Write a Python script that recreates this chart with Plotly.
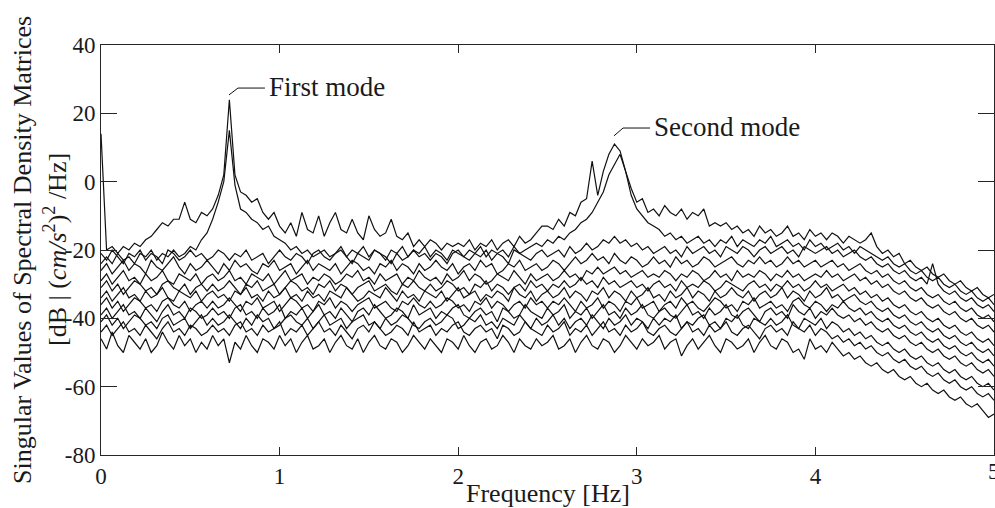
import numpy as np
import plotly.graph_objects as go

# Singular value curves (dB), sampled uniformly on 0..5 Hz (161 points each)
sv1 = [14, -20, -19, -21, -19, -20, -18, -19, -17, -16, -14, -12, -13, -11, -11, -6, -11, -12, -9, -10,
       -8, -4, 2, 24, 2, -3, -4, -6, -5, -9, -11, -9, -13, -15, -12, -16, -9, -14, -15, -10,
       -16, -12, -9, -14, -15, -11, -15, -17, -10, -14, -16, -15, -11, -16, -17, -15, -19, -17, -19, -17,
       -18, -20, -18, -19, -18, -19, -17, -20, -18, -19, -17, -20, -18, -17, -19, -16, -18, -17, -15, -13,
       -13, -14, -11, -13, -9, -10, -6, -5, 6, -4, 3, 8, 11, 9, 3, -2, -6, -5, -9, -8,
       -10, -7, -9, -10, -8, -11, -9, -10, -8, -13, -12, -13, -12, -14, -13, -15, -14, -16, -13, -15,
       -14, -16, -15, -13, -16, -15, -17, -14, -16, -15, -17, -15, -16, -18, -16, -17, -18, -17, -15, -19,
       -21, -20, -22, -21, -24, -23, -25, -26, -25, -27, -28, -27, -29, -30, -29, -31, -32, -31, -33, -34, -33]
sv2 = [-24, -22, -24, -21, -23, -22, -24, -21, -22, -20, -23, -21, -22, -20, -22, -21, -19, -20, -17, -15,
       -11, -6, 0, 15, -1, -8, -9, -11, -12, -14, -13, -16, -17, -18, -20, -19, -21, -20, -22, -21,
       -20, -22, -21, -19, -22, -20, -21, -19, -22, -20, -21, -23, -20, -21, -19, -22, -20, -21, -19, -22,
       -20, -21, -23, -20, -21, -22, -20, -21, -19, -22, -20, -21, -20, -22, -19, -21, -20, -19, -18, -19,
       -17, -18, -16, -17, -15, -14, -12, -11, -9, -6, -3, 2, 5, 8, 3, -4, -8, -10, -12, -13,
       -14, -16, -15, -17, -16, -18, -17, -16, -18, -17, -19, -17, -18, -16, -19, -17, -18, -19, -17, -18,
       -16, -19, -18, -17, -19, -18, -20, -17, -19, -18, -20, -19, -18, -20, -19, -21, -19, -20, -21, -22,
       -23, -22, -24, -25, -24, -26, -27, -26, -28, -29, -28, -30, -31, -30, -32, -33, -32, -34, -35, -34, -36]
sv3 = [-21, -23, -20, -22, -24, -21, -22, -20, -23, -21, -22, -24, -20, -21, -23, -22, -20, -22, -21, -23,
       -22, -20, -21, -23, -21, -22, -20, -23, -22, -21, -24, -22, -20, -22, -23, -21, -22, -24, -21, -20,
       -22, -23, -21, -20, -22, -24, -21, -22, -23, -20, -21, -22, -24, -21, -23, -22, -20, -22, -21, -23,
       -21, -22, -24, -21, -20, -22, -23, -21, -22, -20, -23, -21, -22, -24, -20, -21, -22, -23, -21, -20,
       -22, -21, -20, -22, -19, -21, -20, -18, -20, -19, -17, -18, -16, -18, -17, -19, -18, -20, -19, -21,
       -20, -19, -21, -20, -22, -19, -21, -20, -19, -21, -20, -22, -19, -20, -21, -19, -20, -22, -20, -19,
       -21, -20, -19, -21, -20, -22, -19, -20, -21, -20, -19, -21, -20, -22, -21, -20, -22, -23, -22, -24,
       -25, -24, -26, -27, -26, -28, -29, -28, -30, -24, -30, -32, -33, -32, -34, -35, -34, -36, -37, -36, -38]
sv4 = [-26, -24, -27, -25, -23, -26, -24, -25, -27, -23, -25, -26, -24, -22, -25, -27, -24, -26, -25, -23,
       -25, -27, -24, -26, -23, -25, -24, -26, -27, -24, -25, -23, -26, -25, -24, -27, -25, -23, -26, -24,
       -25, -26, -24, -27, -25, -23, -24, -26, -25, -27, -24, -25, -23, -26, -24, -25, -27, -24, -26, -25,
       -23, -25, -26, -24, -27, -25, -24, -26, -23, -25, -24, -27, -26, -24, -25, -23, -26, -25, -24, -26,
       -25, -23, -24, -26, -24, -22, -24, -23, -21, -23, -22, -24, -21, -23, -24, -22, -23, -25, -24, -22,
       -24, -23, -25, -22, -24, -23, -25, -24, -22, -23, -25, -24, -23, -22, -24, -25, -23, -24, -22, -24,
       -23, -25, -24, -22, -24, -23, -25, -24, -23, -25, -24, -23, -25, -24, -26, -25, -24, -26, -27, -26,
       -28, -27, -29, -30, -29, -31, -32, -31, -33, -34, -33, -35, -36, -35, -37, -38, -37, -39, -40, -39, -41]
sv5 = [-29, -27, -30, -28, -26, -29, -28, -30, -27, -29, -28, -26, -29, -30, -27, -28, -29, -27, -30, -28,
       -27, -29, -28, -26, -29, -28, -30, -27, -28, -29, -27, -30, -28, -26, -29, -28, -27, -30, -28, -29,
       -27, -28, -30, -29, -27, -28, -26, -29, -28, -30, -27, -29, -28, -27, -30, -28, -29, -26, -28, -29,
       -28, -30, -27, -29, -28, -26, -29, -27, -28, -30, -29, -27, -28, -29, -26, -28, -30, -27, -29, -28,
       -27, -29, -28, -26, -28, -27, -29, -26, -27, -25, -27, -26, -25, -27, -26, -28, -27, -26, -28, -27,
       -28, -26, -27, -29, -27, -28, -26, -27, -29, -28, -26, -28, -27, -29, -26, -28, -27, -28, -26, -27,
       -29, -27, -28, -26, -28, -27, -29, -28, -27, -28, -26, -28, -27, -29, -28, -27, -29, -28, -30, -29,
       -31, -30, -32, -33, -32, -34, -35, -34, -36, -37, -36, -38, -39, -38, -40, -41, -40, -42, -43, -42, -44]
sv6 = [-31, -29, -32, -30, -33, -31, -29, -30, -32, -31, -33, -30, -29, -31, -32, -30, -33, -31, -30, -32,
       -30, -32, -31, -29, -31, -33, -30, -31, -29, -32, -31, -30, -33, -31, -29, -30, -32, -31, -33, -30,
       -31, -29, -32, -30, -31, -33, -31, -30, -29, -32, -31, -30, -32, -33, -30, -31, -29, -31, -32, -30,
       -32, -31, -29, -30, -32, -31, -33, -30, -31, -29, -32, -30, -31, -33, -31, -30, -32, -29, -31, -30,
       -32, -30, -31, -29, -31, -30, -28, -30, -29, -31, -28, -30, -29, -31, -30, -29, -31, -30, -32, -30,
       -29, -31, -30, -32, -29, -31, -30, -31, -29, -30, -32, -31, -29, -30, -31, -32, -30, -29, -31, -30,
       -32, -30, -31, -29, -31, -30, -32, -31, -29, -31, -30, -32, -31, -30, -32, -31, -33, -32, -34, -33,
       -35, -34, -36, -37, -36, -38, -39, -38, -40, -41, -40, -42, -43, -42, -44, -45, -44, -46, -47, -46, -48]
sv7 = [-34, -32, -35, -33, -31, -34, -33, -35, -32, -34, -33, -31, -34, -35, -32, -33, -34, -32, -35, -33,
       -32, -34, -33, -35, -32, -33, -31, -34, -33, -35, -32, -34, -33, -31, -34, -33, -35, -32, -34, -33,
       -35, -32, -33, -34, -31, -33, -35, -34, -32, -33, -34, -31, -33, -35, -32, -34, -33, -35, -32, -33,
       -34, -32, -35, -33, -31, -34, -33, -32, -35, -33, -34, -32, -33, -35, -31, -33, -34, -32, -35, -33,
       -32, -34, -33, -31, -34, -32, -33, -35, -32, -33, -31, -34, -32, -33, -35, -32, -34, -33, -31, -34,
       -33, -35, -32, -34, -33, -31, -34, -32, -33, -35, -32, -34, -33, -31, -33, -34, -32, -35, -33, -32,
       -34, -33, -31, -34, -32, -33, -35, -32, -34, -33, -31, -34, -33, -35, -34, -33, -35, -36, -35, -37,
       -38, -37, -39, -40, -39, -41, -42, -41, -43, -44, -43, -45, -46, -45, -47, -48, -47, -49, -50, -49, -51]
sv8 = [-36, -34, -37, -35, -38, -36, -34, -35, -37, -36, -38, -35, -34, -36, -37, -35, -38, -36, -35, -37,
       -35, -37, -36, -34, -36, -38, -35, -36, -34, -37, -36, -35, -38, -36, -34, -35, -37, -36, -38, -35,
       -36, -34, -37, -35, -36, -38, -36, -35, -34, -37, -36, -35, -37, -38, -35, -36, -34, -36, -37, -35,
       -37, -36, -34, -35, -37, -36, -38, -35, -36, -34, -37, -35, -36, -38, -36, -35, -37, -34, -36, -35,
       -37, -35, -36, -34, -36, -38, -35, -37, -36, -34, -37, -35, -36, -38, -35, -36, -34, -37, -36, -35,
       -38, -36, -35, -37, -34, -36, -35, -37, -38, -36, -34, -35, -37, -36, -38, -35, -36, -34, -37, -36,
       -35, -37, -36, -38, -35, -34, -36, -37, -35, -36, -38, -36, -37, -35, -37, -38, -37, -39, -38, -40,
       -41, -40, -42, -43, -42, -44, -45, -44, -46, -47, -46, -48, -49, -48, -50, -51, -50, -52, -53, -52, -54]
sv9 = [-39, -37, -40, -38, -36, -39, -38, -40, -37, -39, -41, -38, -36, -39, -38, -40, -37, -38, -40, -39,
       -37, -39, -38, -40, -37, -36, -39, -38, -40, -37, -39, -38, -36, -40, -38, -39, -37, -40, -38, -36,
       -39, -38, -40, -37, -39, -41, -38, -37, -39, -36, -38, -40, -39, -37, -38, -40, -36, -39, -38, -37,
       -40, -38, -39, -37, -36, -39, -40, -38, -37, -39, -38, -41, -37, -38, -40, -39, -36, -38, -39, -40,
       -37, -39, -38, -36, -40, -38, -39, -37, -40, -38, -36, -39, -38, -40, -37, -39, -38, -36, -39, -40,
       -38, -37, -39, -40, -38, -36, -39, -38, -40, -37, -39, -38, -36, -39, -40, -38, -37, -39, -41, -38,
       -37, -39, -38, -40, -36, -38, -39, -37, -40, -38, -39, -37, -39, -40, -39, -41, -40, -42, -41, -43,
       -44, -43, -45, -46, -45, -47, -48, -47, -49, -50, -49, -51, -52, -51, -53, -54, -53, -55, -56, -55, -57]
sv10 = [-41, -39, -42, -40, -43, -41, -39, -40, -42, -41, -43, -40, -39, -42, -41, -40, -43, -41, -39, -42,
        -40, -42, -41, -39, -41, -43, -40, -42, -39, -41, -40, -43, -42, -40, -39, -41, -42, -40, -43, -41,
        -39, -42, -41, -40, -43, -41, -40, -39, -42, -41, -43, -40, -42, -41, -39, -40, -42, -43, -41, -40,
        -42, -41, -39, -40, -43, -42, -40, -41, -39, -42, -41, -43, -40, -41, -42, -39, -41, -43, -40, -42,
        -41, -39, -42, -40, -43, -41, -40, -42, -39, -41, -43, -40, -42, -41, -39, -42, -40, -41, -43, -40,
        -42, -40, -41, -39, -43, -41, -42, -40, -39, -42, -41, -43, -40, -41, -39, -42, -43, -40, -41, -42,
        -40, -42, -41, -39, -42, -43, -40, -41, -42, -40, -43, -41, -42, -44, -43, -45, -44, -46, -45, -47,
        -48, -47, -49, -50, -49, -51, -52, -51, -53, -54, -53, -55, -56, -55, -57, -58, -57, -59, -60, -59, -61]
sv11 = [-44, -42, -45, -43, -41, -44, -43, -45, -42, -44, -46, -43, -41, -44, -43, -45, -42, -43, -45, -44,
        -42, -44, -43, -45, -42, -41, -44, -43, -45, -42, -44, -43, -41, -45, -43, -44, -42, -45, -43, -41,
        -44, -43, -45, -42, -44, -46, -43, -42, -44, -41, -43, -45, -44, -42, -43, -45, -41, -44, -43, -42,
        -45, -43, -44, -42, -41, -44, -45, -43, -42, -44, -43, -46, -42, -43, -45, -44, -41, -43, -44, -45,
        -42, -44, -43, -41, -45, -43, -44, -42, -45, -43, -41, -44, -43, -45, -42, -44, -43, -41, -44, -45,
        -43, -42, -44, -45, -43, -41, -44, -43, -45, -42, -44, -43, -41, -44, -45, -43, -42, -44, -46, -43,
        -42, -44, -43, -45, -41, -43, -44, -42, -45, -43, -44, -46, -45, -47, -46, -48, -47, -49, -48, -50,
        -51, -50, -52, -53, -52, -54, -55, -54, -56, -57, -56, -58, -59, -58, -60, -61, -60, -62, -63, -62, -64]
sv12 = [-46, -49, -44, -48, -50, -45, -47, -49, -46, -50, -48, -44, -47, -49, -45, -48, -46, -50, -47, -49,
        -45, -48, -46, -53, -47, -49, -45, -48, -50, -46, -47, -49, -45, -48, -46, -50, -47, -45, -49, -48,
        -46, -50, -47, -45, -48, -49, -46, -50, -47, -45, -48, -49, -46, -47, -50, -48, -45, -47, -49, -46,
        -48, -50, -46, -47, -49, -45, -48, -50, -47, -46, -49, -48, -45, -47, -50, -46, -48, -49, -46, -48,
        -47, -45, -49, -48, -46, -50, -47, -45, -48, -49, -46, -47, -50, -48, -45, -47, -49, -46, -48, -47,
        -45, -49, -47, -46, -51, -48, -46, -49, -47, -45, -48, -50, -46, -47, -49, -48, -46, -50, -47, -45,
        -48, -49, -46, -47, -50, -49, -52, -46, -49, -48, -50, -47, -49, -51, -50, -52, -51, -53, -54, -53,
        -55, -56, -55, -57, -58, -57, -59, -60, -59, -61, -62, -61, -63, -64, -63, -65, -66, -65, -67, -69, -68]

curves = [sv1, sv2, sv3, sv4, sv5, sv6, sv7, sv8, sv9, sv10, sv11, sv12]

# Axis ticks
x_ticks = [0, 1, 2, 3, 4, 5]
y_ticks = [-80, -60, -40, -20, 0, 20, 40]
y_ticktext = ["-80", "-60", "-40", "-20", "0", "20", "40"]

# Mode labels with their leader lines (freq, dB)
mode_labels = ["First mode", "Second mode"]
leader_x = [[0.717, 0.767, 0.918], [2.872, 2.923, 3.074]]
leader_y = [[25.4, 27.4, 27.4], [13.4, 15.7, 15.7]]

FONT = "Liberation Serif"
TXT = "#1a1a1a"
AX = "#262626"

fig = go.Figure()
for c in curves:
    f = np.linspace(0, 5, len(c))
    fig.add_trace(go.Scatter(x=f, y=c, mode="lines",
                             line=dict(color="#111111", width=1.2),
                             hoverinfo="skip", showlegend=False))

for lx, ly, lab in zip(leader_x, leader_y, mode_labels):
    fig.add_trace(go.Scatter(x=lx, y=ly, mode="lines",
                             line=dict(color="#111111", width=1),
                             hoverinfo="skip", showlegend=False))
    fig.add_annotation(x=lx[-1], y=ly[-1], xref="x", yref="y", text=lab,
                       showarrow=False, xanchor="left", yanchor="middle", xshift=2, yshift=1,
                       font=dict(family=FONT, size=27, color=TXT))

# last x tick label sits on the figure's right edge (partly cut, as in the original)
fig.add_annotation(x=x_ticks[-1], y=0, xref="x", yref="paper", text=str(x_ticks[-1]),
                   showarrow=False, xanchor="center", yanchor="top", yshift=-2,
                   font=dict(family=FONT, size=23, color=TXT))

fig.add_annotation(x=0.5, y=-0.093, xref="paper", yref="paper",
                   text="Frequency [Hz]", showarrow=False,
                   xanchor="center", yanchor="middle",
                   font=dict(family=FONT, size=26, color=TXT))
fig.add_annotation(x=-0.0885, y=0.5, xref="paper", yref="paper",
                   text="Singular Values of Spectral Density Matrices", showarrow=False,
                   textangle=-90, xanchor="center", yanchor="middle",
                   font=dict(family=FONT, size=26, color=TXT))
fig.add_annotation(x=-0.0515, y=0.5, xref="paper", yref="paper",
                   text="[dB | (<i>cm/s</i><sup>2</sup>)<sup>2</sup> /Hz]", showarrow=False,
                   textangle=-90, xanchor="center", yanchor="middle",
                   font=dict(family=FONT, size=26, color=TXT))

fig.update_layout(
    width=995, height=508, autosize=False,
    margin=dict(l=101, r=1, t=45, b=53, autoexpand=False),
    paper_bgcolor="white", plot_bgcolor="white",
    showlegend=False,
    xaxis=dict(range=[0, 5], tickvals=x_ticks, ticks="inside", ticklen=8,
               tickcolor=AX, showline=True, linecolor=AX, linewidth=1,
               mirror="ticks", showgrid=False, zeroline=False, automargin=False,
               tickfont=dict(family=FONT, size=23, color=TXT)),
    yaxis=dict(range=[-80, 40], tickvals=y_ticks, ticktext=y_ticktext,
               ticks="inside", ticklen=16, tickcolor=AX,
               showline=True, linecolor=AX, linewidth=1,
               mirror="ticks", showgrid=False, zeroline=False, automargin=False,
               tickfont=dict(family=FONT, size=23, color=TXT)),
)

fig.write_html("out.html", config={"responsive": False, "displayModeBar": False},
               post_script="document.body.style.margin='0px';"
                           "document.body.style.overflow='hidden';"
                           "Plotly.relayout('{plot_id}', {width: 995, height: 508});")
